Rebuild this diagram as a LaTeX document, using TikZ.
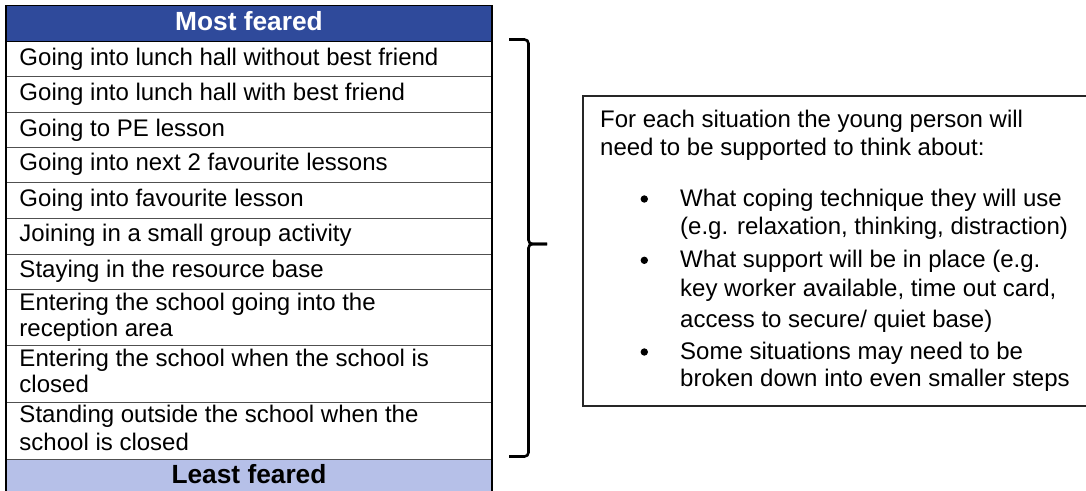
\documentclass[tikz,border=0pt]{standalone}
\usepackage{fontspec}
\setmainfont{Liberation Sans}
\definecolor{hdrblue}{HTML}{2F4A9B}
\definecolor{lightblue}{HTML}{B6C0E8}
\definecolor{rulegray}{HTML}{505050}
\begin{document}
\begin{tikzpicture}[x=1pt,y=-1pt,
  txt/.style={anchor=base west, inner sep=0pt, font=\fontsize{24}{27}\selectfont},
  htxt/.style={anchor=base, inner sep=0pt, font=\fontsize{26.3}{30}\selectfont\bfseries},
  rowline/.style={draw=rulegray, line width=1pt},
  frame/.style={draw=black, line width=1.2pt},
  bracepath/.style={draw=black, line width=2.6pt, rounded corners=4pt},
  bulletdot/.style={circle, fill=black, inner sep=0pt, minimum size=7.4pt},
  notebox/.style={draw=black!85, line width=1.6pt}]
\useasboundingbox (0,0) rectangle (1086,490);
\fill[white] (0,0) rectangle (1086,490);

% table backgrounds
\fill[hdrblue] (6,5.3) rectangle (492,41.5);
\fill[lightblue] (6,459) rectangle (492,500);
% row separators
\foreach \yy in {76.5,112.5,147,182.5,218,254,289.5,345,402,459}
  \draw[rowline] (6,\yy) -- (492,\yy);
\draw[draw=black, line width=1.2pt] (6,41.5) -- (492,41.5);
\draw[frame] (6,5.3) rectangle (492,500);

% header and footer
\node[htxt, text=white] (most) at (249,30) {Most feared};
\node[htxt] (least) at (249,483.5) {Least feared};

% rows
\node[txt] (r1) at (19.3,65) {Going into lunch hall without best friend};
\node[txt] (r2) at (19.3,100) {Going into lunch hall with best friend};
\node[txt] (r3) at (19.3,136) {Going to PE lesson};
\node[txt] (r4) at (19.3,170.5) {Going into next 2 favourite lessons};
\node[txt] (r5) at (19.3,206) {Going into favourite lesson};
\node[txt] (r6) at (19.3,241.5) {Joining in a small group activity};
\node[txt] (r7) at (19.3,277.5) {Staying in the resource base};
\node[txt] (r8a) at (19.3,310.7) {Entering the school going into the};
\node[txt] (r8b) at (19.3,336.5) {reception area};
\node[txt] (r9a) at (19.3,366.7) {Entering the school when the school is};
\node[txt] (r9b) at (19.3,392.7) {closed};
\node[txt] (r10a) at (19.3,422.7) {Standing outside the school when the};
\node[txt] (r10b) at (19.3,450) {school is closed};

% brace
\draw[bracepath] (509,39.5) -- (528.5,39.5) -- (528.5,244) -- (547,244);
\draw[bracepath] (547,244) -- (528.5,244) -- (528.5,456.5) -- (509,456.5);

% note box
\draw[notebox] (582.7,95.7) rectangle (1096,406);
\node[txt] (n1) at (600,127.5) {For each situation the young person will};
\node[txt] (n2) at (600,155.5) {need to be supported to think about:};

\node[bulletdot] (d1) at (644.3,199) {};
\node[txt] (b1a) at (680,206) {What coping technique they will use};
\node[txt] (b1b) at (680,234) {(e.g. relaxation, thinking, distraction)};
\node[bulletdot] (d2) at (644.3,260.3) {};
\node[txt] (b2a) at (680,267.3) {What support will be in place (e.g.};
\node[txt] (b2b) at (680,296.5) {key worker available, time out card,};
\node[txt] (b2c) at (680,327) {access to secure/ quiet base)};
\node[bulletdot] (d3) at (644.3,352) {};
\node[txt] (b3a) at (680,359) {Some situations may need to be};
\node[txt] (b3b) at (680,386.7) {broken down into even smaller steps};
\end{tikzpicture}
\end{document}
